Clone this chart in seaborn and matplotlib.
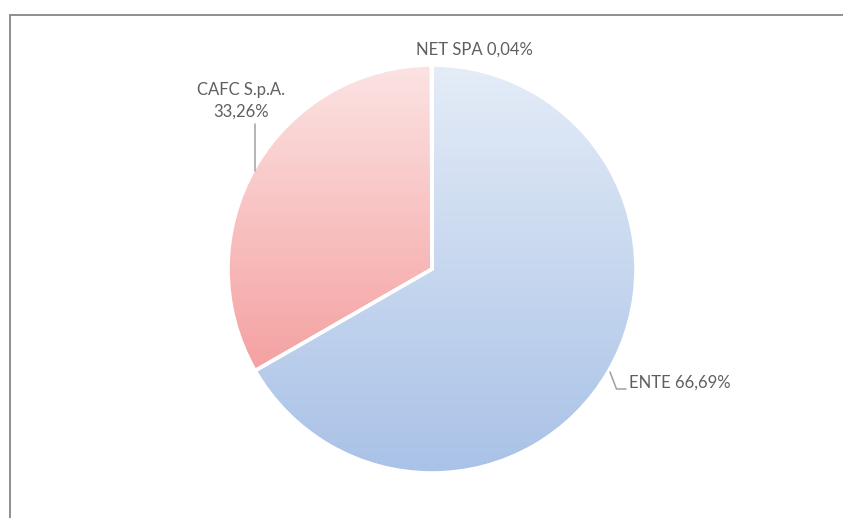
import numpy as np
import matplotlib
matplotlib.use("Agg")
import matplotlib.pyplot as plt
import seaborn as sns
from matplotlib.colors import LinearSegmentedColormap
from matplotlib.lines import Line2D

# Data
labels = ["ENTE", "CAFC S.p.A.", "NET SPA"]
shares = [66.69, 33.26, 0.04]
label_text = ["ENTE 66,69%", "CAFC S.p.A.\n33,26%", "NET SPA 0,04%"]

sns.set_style("white")
plt.rcParams["font.family"] = ["Lato", "DejaVu Sans"]

fig = plt.figure(figsize=(8.43, 5.18), dpi=100)
ax = fig.add_axes([0, 0, 1, 1])

# pie in pixel-like data coords (y up)
cx, cy, r = 432, 518 - 269, 204
wedges, _ = ax.pie(shares, startangle=90, counterclock=False,
                   center=(cx, cy), radius=r, frame=True,
                   wedgeprops=dict(facecolor="none", edgecolor="white",
                                   linewidth=2.6, zorder=3))

# vertical gradient fills clipped to each slice
grads = [("#E4ECF7", "#A9C2E7"), ("#FCE3E3", "#F5A1A1"), ("#E4ECF7", "#A9C2E7")]
for w, (top, bot) in zip(wedges, grads):
    ext = w.get_path().get_extents()
    cmap = LinearSegmentedColormap.from_list("g", [bot, top])
    grad = np.linspace(0, 1, 256).reshape(-1, 1)
    im = ax.imshow(grad, cmap=cmap, origin="lower", aspect="auto",
                   extent=[ext.x0, ext.x1, ext.y0, ext.y1], zorder=2)
    im.set_clip_path(w)

ax.set_xlim(0, 843)
ax.set_ylim(0, 518)
ax.axis("off")

txt = dict(color="#5f5f5f", fontsize=12)
H = 518
# ENTE
ax.text(629, H - 383, label_text[0], ha="left", va="center", **txt)
ax.plot([610, 616.5, 626], [H - 372, H - 389, H - 389], color="#a0a0a0", lw=1.1, zorder=4)
# CAFC
ax.text(241, H - 101, label_text[1], ha="center", va="center",
        linespacing=1.4, **txt)
ax.plot([255, 255], [H - 124, H - 171], color="#a0a0a0", lw=1.1, zorder=4)
# NET SPA
ax.text(474, H - 50, label_text[2], ha="center", va="center", **txt)

# chart area border (cropped)
fig.add_artist(Line2D([9.5 / 843, 9.5 / 843], [0, 1 - 14.5 / 518],
                      transform=fig.transFigure, color="#878787", lw=1.3))
fig.add_artist(Line2D([9.5 / 843, 1], [1 - 14.5 / 518, 1 - 14.5 / 518],
                      transform=fig.transFigure, color="#878787", lw=1.3))

fig.savefig("out.png", dpi=100, facecolor="white")
